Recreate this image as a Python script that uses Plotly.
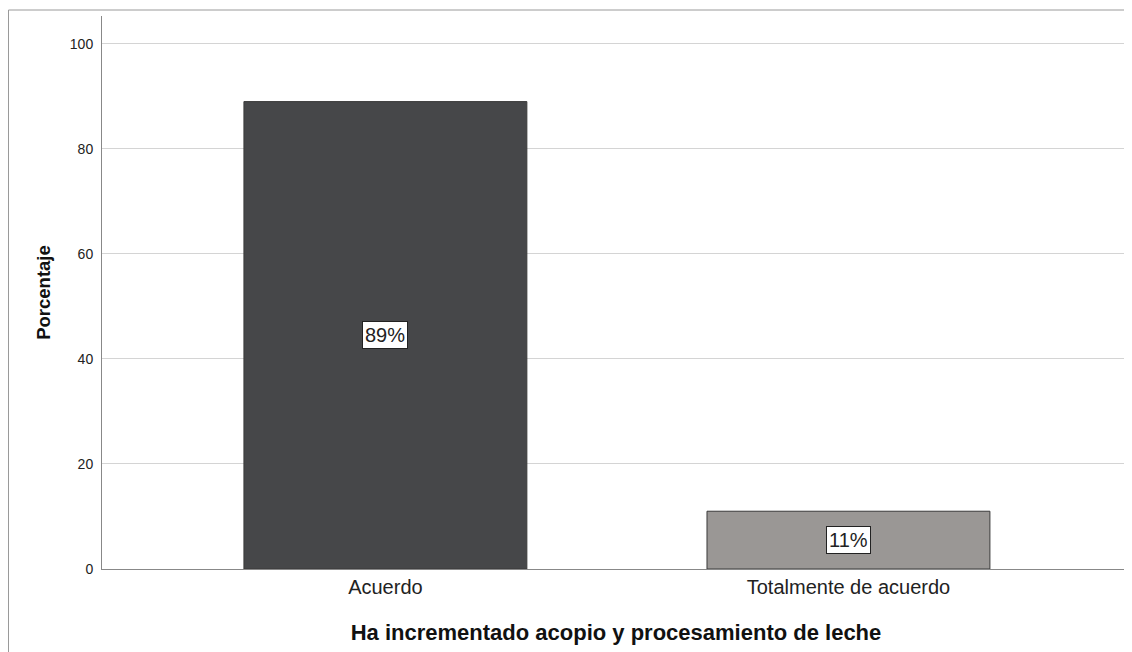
import plotly.graph_objects as go

categories = ["Acuerdo", "Totalmente de acuerdo"]
values = [89, 11]
labels = ["89%", "11%"]
colors = ["#464749", "#9a9795"]

# browser body margin is 8px, so compensate
W, H = 1124, 644
L, T, R, B = 94, 8, 2, 83
pw = W - L - R
ph = H - T - B

xpos = list(range(len(categories)))
fig = go.Figure()
fig.add_trace(go.Bar(x=xpos, y=values, width=0.611,
                     marker=dict(color=colors, line=dict(color="#3a3a3a", width=1)),
                     hoverinfo="skip"))

for xi, v, lab in zip(xpos, values, labels):
    fig.add_annotation(x=xi, y=v / 2, text=lab, showarrow=False,
                       font=dict(family="Liberation Sans, Arial", size=20, color="#222222"),
                       bgcolor="white", bordercolor="#222222", borderwidth=1, borderpad=2)

# outer frame lines
fx0 = (0.5 - L) / pw
fy0 = 1 + (T - 2) / ph
fig.add_shape(type="line", xref="paper", yref="paper", x0=fx0, x1=fx0, y0=fy0, y1=-(B + 10) / ph,
              line=dict(color="#9a9a9a", width=1))
fig.add_shape(type="line", xref="paper", yref="paper", x0=fx0, x1=1 + (R + 10) / pw, y0=fy0, y1=fy0,
              line=dict(color="#9a9a9a", width=1))

fig.update_layout(
    width=W, height=H,
    margin=dict(l=L, r=R, t=T, b=B),
    plot_bgcolor="white", paper_bgcolor="white",
    showlegend=False,
    font=dict(family="Liberation Sans, Arial", color="#222222"),
    xaxis=dict(range=[-0.612, 1.608], tickvals=xpos, ticktext=categories, showgrid=False,
               showline=True, linecolor="#888888", linewidth=1, ticks="", zeroline=False,
               tickfont=dict(size=20, color="#222222"),
               title=dict(text="<b>Ha incrementado acopio y procesamiento de leche</b>",
                          font=dict(size=22, color="#111111"), standoff=27)),
    yaxis=dict(range=[0, 105.3], tickvals=[0, 20, 40, 60, 80, 100], showgrid=True,
               gridcolor="#d4d4d4", gridwidth=1, showline=True, linecolor="#888888", linewidth=1,
               ticks="", zeroline=False, tickfont=dict(size=14, color="#222222"),
               ticklabelstandoff=5,
               title=dict(text="<b>Porcentaje</b>", font=dict(size=18.5, color="#111111"), standoff=14)),
)

fig.write_html("out.html")
